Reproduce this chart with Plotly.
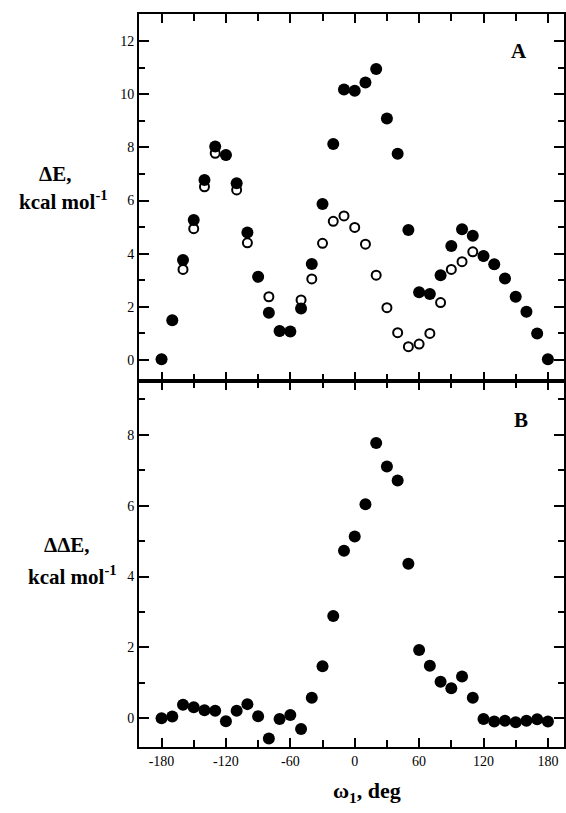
import plotly.graph_objects as go
from plotly.subplots import make_subplots

# ---- data ----
omega = [-180, -170, -160, -150, -140, -130, -120, -110, -100, -90, -80, -70, -60,
         -50, -40, -30, -20, -10, 0, 10, 20, 30, 40, 50, 60, 70, 80, 90, 100, 110,
         120, 130, 140, 150, 160, 170, 180]

dE_filled = [0.03, 1.50, 3.76, 5.27, 6.77, 8.03, 7.71, 6.65, 4.80, 3.13, 1.78, 1.09, 1.07,
             1.94, 3.61, 5.87, 8.13, 10.18, 10.13, 10.44, 10.95, 9.09, 7.76, 4.89, 2.55, 2.48,
             3.19, 4.29, 4.92, 4.68, 3.91, 3.60, 3.07, 2.38, 1.82, 1.00, 0.03]

dE_open = [0.03, 1.50, 3.41, 4.94, 6.52, 7.78, 7.71, 6.40, 4.41, 3.13, 2.38, 1.09, 1.07,
           2.26, 3.05, 4.39, 5.22, 5.42, 4.99, 4.36, 3.19, 1.97, 1.03, 0.50, 0.60, 1.00,
           2.16, 3.41, 3.70, 4.07, 3.91, 3.60, 3.07, 2.38, 1.82, 1.00, 0.03]

ddE = [0.00, 0.05, 0.38, 0.31, 0.23, 0.21, -0.08, 0.21, 0.40, 0.06, -0.57, -0.02, 0.09,
       -0.30, 0.58, 1.47, 2.89, 4.73, 5.13, 6.04, 7.77, 7.11, 6.71, 4.36, 1.93, 1.48,
       1.03, 0.85, 1.18, 0.58, -0.02, -0.09, -0.07, -0.11, -0.07, -0.03, -0.09]

x_ticks = [-180, -120, -60, 0, 60, 120, 180]
x_tick_text = ["-180", "-120", "-60", "0", "60", "120", "180"]
x_minor = [-150, -90, -30, 30, 90, 150]
yA_ticks = [0, 2, 4, 6, 8, 10, 12]
yA_minor = [1, 3, 5, 7, 9, 11]
yB_ticks = [0, 2, 4, 6, 8]
yB_minor = [1, 3, 5, 7, 9]

# ---- layout geometry ----
W, H = 566, 813
L, R, T, B = 139, 0, 14, 66
PW, PH = W - L - R, H - T - B
split = (747 - 381) / PH

def px_x(px):
    return (px - L) / PW

def px_y(py):
    return (H - B - py) / PH

FONT = "Liberation Serif"

fig = make_subplots(rows=2, cols=1, vertical_spacing=0)

fig.add_trace(go.Scatter(x=omega, y=dE_open, mode="markers",
                         marker=dict(symbol="circle", size=9, color="white",
                                     line=dict(color="black", width=2)),
                         showlegend=False), row=1, col=1)
fig.add_trace(go.Scatter(x=omega, y=dE_filled, mode="markers",
                         marker=dict(symbol="circle", size=12, color="black",
                                     line=dict(width=0)),
                         showlegend=False), row=1, col=1)
fig.add_trace(go.Scatter(x=omega, y=ddE, mode="markers",
                         marker=dict(symbol="circle", size=12, color="black",
                                     line=dict(width=0)),
                         showlegend=False), row=2, col=1)

fig.update_xaxes(range=[-201.0, 195.0], showline=True, linewidth=2, linecolor="black",
                 mirror="ticks", ticks="inside", ticklen=9, tickwidth=2, tickcolor="black",
                 tickmode="array", tickvals=x_ticks, ticktext=x_tick_text,
                 showgrid=False, zeroline=False,
                 minor=dict(tickmode="array", tickvals=x_minor, ticks="inside",
                            ticklen=7, tickwidth=2, tickcolor="black", showgrid=False),
                 tickfont=dict(family=FONT, size=14, color="black"))
fig.update_xaxes(showticklabels=False, row=1, col=1)
fig.update_xaxes(showticklabels=True, row=2, col=1)

fig.update_yaxes(showline=True, linewidth=2, linecolor="black", mirror="ticks",
                 ticks="inside", ticklen=10, tickwidth=2, tickcolor="black",
                 showgrid=False, zeroline=False,
                 tickfont=dict(family=FONT, size=14, color="black"))
fig.update_yaxes(range=[-0.79, 13.02], tickmode="array", tickvals=yA_ticks,
                 minor=dict(tickmode="array", tickvals=yA_minor, ticks="inside", ticklen=6,
                            tickwidth=2, tickcolor="black", showgrid=False), row=1, col=1)
fig.update_yaxes(range=[-0.81, 9.52], tickmode="array", tickvals=yB_ticks,
                 minor=dict(tickmode="array", tickvals=yB_minor, ticks="inside", ticklen=6,
                            tickwidth=2, tickcolor="black", showgrid=False), row=2, col=1)
fig.layout.yaxis.domain = [split, 1]
fig.layout.yaxis2.domain = [0, split]

lab_font = dict(family=FONT, size=21, color="black")
annotations = [
    dict(text="<b>A</b>", x=px_x(521), y=px_y(51), font=lab_font),
    dict(text="<b>B</b>", x=px_x(523), y=px_y(420), font=lab_font),
    dict(text="<b>ΔE,</b>", x=px_x(55), y=px_y(174), font=lab_font),
    dict(text="<b>kcal mol<sup>-1</sup></b>", x=px_x(63), y=px_y(201), font=lab_font),
    dict(text="<b>ΔΔE,</b>", x=px_x(67), y=px_y(545), font=lab_font),
    dict(text="<b>kcal mol<sup>-1</sup></b>", x=px_x(72), y=px_y(575), font=lab_font),
    dict(text="<b>ω<sub>1</sub>, deg</b>", x=px_x(368), y=px_y(792),
         font=dict(family=FONT, size=22, color="black")),
]
for a in annotations:
    a.update(xref="paper", yref="paper", showarrow=False, xanchor="center", yanchor="middle")

fig.update_layout(width=W, height=H, margin=dict(l=L, r=R, t=T, b=B, pad=0),
                  plot_bgcolor="white", paper_bgcolor="white",
                  annotations=annotations, showlegend=False)

fig.write_html("out.html")
